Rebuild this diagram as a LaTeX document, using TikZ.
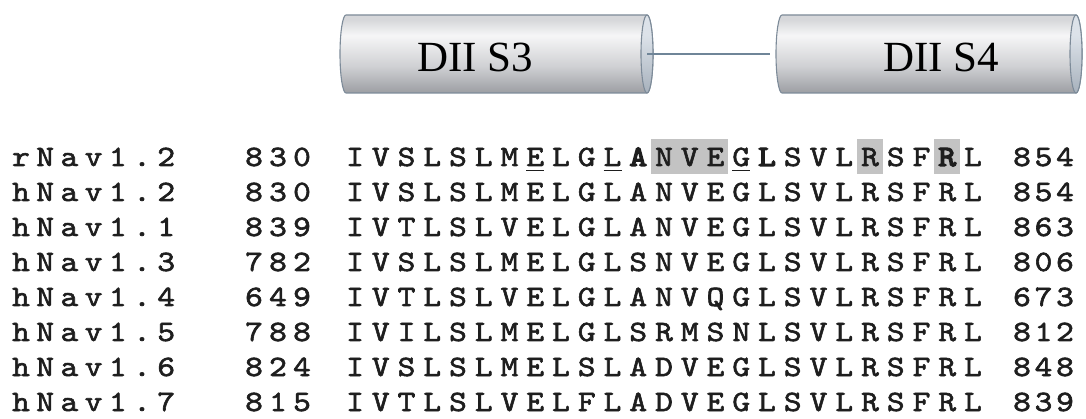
\documentclass[tikz,border=0pt]{standalone}
\usepackage{fontspec}
\newfontfamily\cylfont{Liberation Serif}
\newfontfamily\seqfont{lmmono10-regular.otf}[FakeBold=2, FakeStretch=1.15]
\newfontfamily\seqboldfont{lmmono10-regular.otf}[FakeBold=4.5, FakeStretch=1.15]
\newcommand\bd[1]{{\seqboldfont #1}}
\usetikzlibrary{calc,backgrounds}
\pgfdeclarelayer{bg0}
\pgfsetlayers{bg0,background,main}
\definecolor{txt}{HTML}{1E1E1E}
\definecolor{cylline}{HTML}{7D8B99}
\definecolor{cyltop}{HTML}{D6D7DA}
\definecolor{cylhi}{HTML}{F6F6F7}
\definecolor{cylmid}{HTML}{CFD0D3}
\definecolor{cylbot}{HTML}{9C9EA3}
\definecolor{capA}{HTML}{DCE2E9}
\definecolor{capB}{HTML}{A7B1BC}
\definecolor{hl}{HTML}{C3C3C3}
\definecolor{linkc}{HTML}{6F8598}
\pgfdeclareverticalshading{cylshade}{100bp}{color(0bp)=(cylbot); color(25bp)=(cylbot); color(42bp)=(cylmid); color(62bp)=(cylhi); color(72bp)=(cyltop); color(100bp)=(cyltop)}
\pgfdeclareverticalshading{capshade}{100bp}{color(0bp)=(capB); color(25bp)=(capB); color(62bp)=(capA); color(100bp)=(capA)}
\tikzset{
  seqch/.style={font=\seqfont\fontsize{29.5}{29.5}\selectfont, anchor=base, inner sep=0pt, text=txt},
  cyllab/.style={font=\cylfont\fontsize{43}{43}\selectfont, anchor=base, inner sep=0pt, text=black},
  cylbody/.style={draw=cylline, line width=1.1pt, shading=cylshade},
  cylcap/.style={draw=cylline, line width=1.1pt, shading=capshade},
  linkline/.style={draw=linkc, line width=1.2pt},
  hlbox/.style={fill=hl},
  uline/.style={draw=txt, line width=1.8pt}
}
\newcount\chidx
\makeatletter
\newcommand\putchars[5]{%
  \global\chidx=0
  \@tfor\mychar:=#5\do{%
    \node[seqch] (#1-\the\chidx) at ({#2+#3*\the\chidx},#4) {\mychar};%
    \global\advance\chidx by 1 }}
\makeatother
\newcommand\cylinderpath[2]{%
  \shadedraw[cylbody] (#1+6,15) -- (#2,15) arc[start angle=-90,end angle=90,x radius=6,y radius=39]
     -- (#1+6,93) arc[start angle=90,end angle=270,x radius=6,y radius=39] -- cycle;
  \shadedraw[cylcap] (#2,54) ellipse [x radius=6, y radius=39];}
\newcommand\seqrow[5]{%
  \putchars{n#1}{21}{24.2}{166+35*#1}{#2}%
  \putchars{a#1}{254}{24}{166+35*#1}{#3}%
  \putchars{q#1}{355}{25.75}{166+35*#1}{#4}%
  \putchars{e#1}{1022}{21.5}{166+35*#1}{#5}}
\begin{document}
\begin{tikzpicture}[x=1pt,y=-1pt]
\begin{pgfonlayer}{bg0}
\fill[white] (0,0) rectangle (1086,419);
\end{pgfonlayer}
\useasboundingbox (0,0) rectangle (1086,419);
% helices
\cylinderpath{340}{647}
\cylinderpath{776}{1076}
\coordinate (c3end) at (647,54);
\coordinate (c4start) at (770,54);
\draw[linkline] (c3end) -- (c4start);
\node[cyllab] (lab3) at (475,72) {DII S3};
\node[cyllab] (lab4) at (941,72) {DII S4};
% alignment
\seqrow{0}{rNav1.2}{830}{IVSLSLMELGL{\bd A}NVEG{\bd L}SVLRSF{\bd R}L}{854}
\seqrow{1}{hNav1.2}{830}{IVSLSLMELGLANVEGLSVLRSFRL}{854}
\seqrow{2}{hNav1.1}{839}{IVTLSLVELGLANVEGLSVLRSFRL}{863}
\seqrow{3}{hNav1.3}{782}{IVSLSLMELGLSNVEGLSVLRSFRL}{806}
\seqrow{4}{hNav1.4}{649}{IVTLSLVELGLANVQGLSVLRSFRL}{673}
\seqrow{5}{hNav1.5}{788}{IVILSLMELGLSRMSNLSVLRSFRL}{812}
\seqrow{6}{hNav1.6}{824}{IVSLSLMELSLADVEGLSVLRSFRL}{848}
\seqrow{7}{hNav1.7}{815}{IVTLSLVELFLADVEGLSVLRSFRL}{839}
% highlights
\begin{pgfonlayer}{background}
\fill[hlbox] ($(q0-12.base)+(-12.9,-27)$) rectangle ($(q0-14.base)+(12.9,8)$);
\fill[hlbox] ($(q0-20.base)+(-12.9,-27)$) rectangle ($(q0-20.base)+(12.9,8)$);
\fill[hlbox] ($(q0-23.base)+(-12.9,-27)$) rectangle ($(q0-23.base)+(12.9,8)$);
\end{pgfonlayer}
\foreach \k in {7,10,15}{
  \draw[uline] ($(q0-\k.base)+(-9,4.5)$) -- ($(q0-\k.base)+(9,4.5)$);
}
\end{tikzpicture}
\end{document}
